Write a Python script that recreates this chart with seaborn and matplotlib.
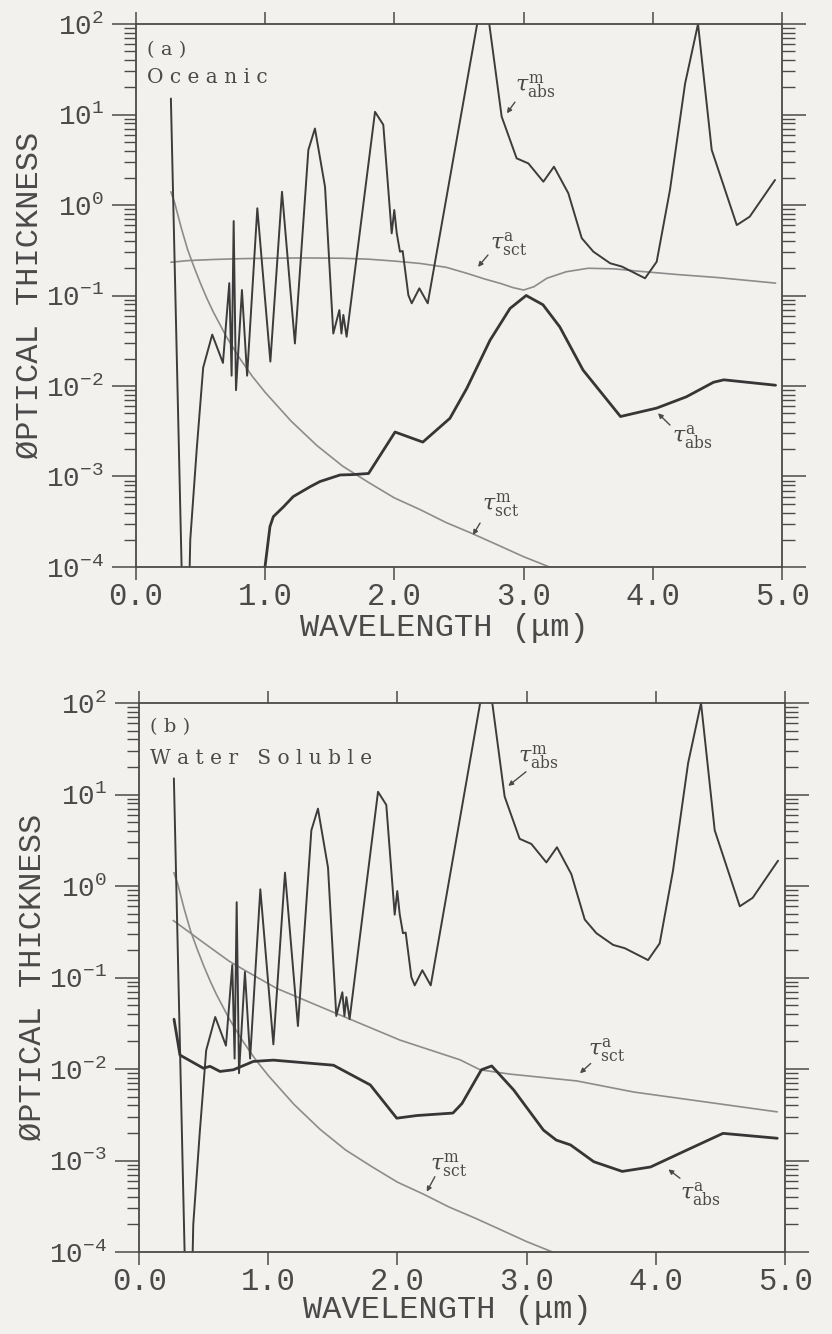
import numpy as np
import pandas as pd
import matplotlib
matplotlib.use("Agg")
import matplotlib.pyplot as plt
import seaborn as sns
from matplotlib.ticker import FixedLocator, NullFormatter

# ---------------- data ----------------
# molecular absorption (same in both panels)
lam_m_abs = [0.27, 0.385, 0.42, 0.47, 0.52, 0.59, 0.673, 0.722, 0.74, 0.756, 0.774,
             0.82, 0.86, 0.939, 1.04, 1.13, 1.23, 1.334, 1.385, 1.463, 1.527, 1.574,
             1.59, 1.605, 1.63, 1.85, 1.914, 1.979, 1.999, 2.018, 2.043, 2.064, 2.108,
             2.134, 2.193, 2.258, 2.694, 2.83, 2.946, 3.037, 3.153, 3.235, 3.346, 3.45,
             3.54, 3.67, 3.76, 3.94, 4.03, 4.133, 4.25, 4.35, 4.456, 4.65, 4.75, 4.946]
tau_m_abs = [15.0, 1e-6, 2e-4, 2e-3, 0.016, 0.037, 0.018, 0.137, 0.013, 0.665, 0.009,
             0.115, 0.013, 0.92, 0.0186, 1.40, 0.0295, 4.06, 7.0, 1.59, 0.038, 0.069,
             0.038, 0.061, 0.035, 10.7, 7.7, 0.486, 0.88, 0.49, 0.305, 0.31, 0.101,
             0.082, 0.12, 0.082, 270.0, 9.5, 3.28, 2.88, 1.81, 2.65, 1.35, 0.43,
             0.305, 0.227, 0.209, 0.155, 0.236, 1.47, 22.0, 100.0, 4.06, 0.60, 0.743, 1.89]

# molecular (Rayleigh) scattering (same in both panels)
lam_m_sct = [0.27, 0.30, 0.35, 0.40, 0.45, 0.50, 0.55, 0.60, 0.70, 0.80, 0.90, 1.0,
             1.2, 1.4, 1.6, 1.8, 2.0, 2.2, 2.4, 2.6, 2.8, 3.0, 3.2, 3.3]
tau_m_sct = [1.4, 1.05, 0.56, 0.32, 0.205, 0.135, 0.092, 0.065, 0.035, 0.0205, 0.0128,
             0.0085, 0.0041, 0.0022, 0.0013, 8.6e-4, 5.8e-4, 4.3e-4, 3.1e-4, 2.35e-4,
             1.75e-4, 1.3e-4, 1.0e-4, 8.5e-5]

# (a) Oceanic aerosol
lam_a_sct_oc = [0.27, 0.4, 0.6, 0.8, 1.0, 1.3, 1.6, 1.8, 2.0, 2.2, 2.4, 2.56, 2.7,
                2.82, 2.92, 3.0, 3.08, 3.18, 3.33, 3.5, 3.7, 3.9, 4.2, 4.5, 4.95]
tau_a_sct_oc = [0.233, 0.243, 0.25, 0.255, 0.258, 0.26, 0.258, 0.252, 0.24, 0.226,
                0.205, 0.176, 0.152, 0.136, 0.122, 0.115, 0.125, 0.155, 0.183, 0.2,
                0.197, 0.185, 0.17, 0.158, 0.137]
lam_a_abs_oc = [0.99, 1.037, 1.063, 1.14, 1.217, 1.347, 1.424, 1.58, 1.68, 1.80, 2.005,
                2.22, 2.43, 2.56, 2.74, 2.895, 3.02, 3.15, 3.28, 3.46, 3.75, 4.03, 4.26,
                4.47, 4.55, 4.95]
tau_a_abs_oc = [8e-5, 2.8e-4, 3.6e-4, 4.6e-4, 6.0e-4, 7.7e-4, 8.8e-4, 1.04e-3, 1.05e-3,
                1.08e-3, 3.1e-3, 2.4e-3, 4.4e-3, 9.4e-3, 0.032, 0.072, 0.10, 0.079,
                0.045, 0.015, 4.6e-3, 5.7e-3, 7.6e-3, 0.011, 0.0117, 0.0102]

# (b) Water soluble aerosol
lam_a_sct_ws = [0.265, 0.5, 0.7, 0.86, 1.066, 1.5, 2.02, 2.485, 2.64, 2.87, 3.39, 3.83, 4.94]
tau_a_sct_ws = [0.42, 0.24, 0.15, 0.111, 0.076, 0.042, 0.0207, 0.0126, 0.0098, 0.0088,
                0.0074, 0.0056, 0.0034]
lam_a_abs_ws = [0.271, 0.317, 0.498, 0.55, 0.627, 0.73, 0.885, 1.04, 1.505, 1.79, 1.995,
                2.15, 2.43, 2.5, 2.65, 2.73, 2.9, 3.13, 3.23, 3.34, 3.52, 3.74, 3.96,
                4.24, 4.52, 4.94]
tau_a_abs_ws = [0.035, 0.0142, 0.0102, 0.0107, 0.0094, 0.0098, 0.0121, 0.0125, 0.011,
                0.0067, 2.9e-3, 3.1e-3, 3.3e-3, 4.2e-3, 9.8e-3, 0.0108, 5.9e-3, 2.15e-3,
                1.67e-3, 1.48e-3, 9.7e-4, 7.6e-4, 8.5e-4, 1.3e-3, 1.98e-3, 1.75e-3]

xtick_vals = [0.0, 1.0, 2.0, 3.0, 4.0, 5.0]
xtick_labels = ["0.0", "1.0", "2.0", "3.0", "4.0", "5.0"]
ytick_exps = [-4, -3, -2, -1, 0, 1, 2]

# ---------------- style ----------------
sns.set_style("ticks")
plt.rcParams['font.family'] = ['Liberation Mono', 'DejaVu Sans Mono', 'DejaVu Sans']
BG = '#f2f1ee'
INK = '#4a4a4a'
LIGHT = '#8c8c8c'

fig = plt.figure(figsize=(8.32, 13.34), dpi=100, facecolor=BG)
ax_a = fig.add_axes([136/832, 1 - 567/1334, 646/832, 543/1334])
ax_b = fig.add_axes([139/832, 1 - 1252/1334, 646/832, 549/1334])


def draw_panel(ax, a_sct_x, a_sct_y, a_abs_x, a_abs_y):
    ax.set_facecolor(BG)
    sns.lineplot(x=lam_m_sct, y=tau_m_sct, ax=ax, color=LIGHT, linewidth=1.2,
                 sort=False, estimator=None)
    sns.lineplot(x=a_sct_x, y=a_sct_y, ax=ax, color=LIGHT, linewidth=1.2,
                 sort=False, estimator=None)
    sns.lineplot(x=lam_m_abs, y=tau_m_abs, ax=ax, color='#3c3c3c', linewidth=1.4,
                 sort=False, estimator=None)
    sns.lineplot(x=a_abs_x, y=a_abs_y, ax=ax, color='#363636', linewidth=2.0,
                 sort=False, estimator=None)
    ax.set_yscale('log')
    ax.set_xlim(0, 5)
    ax.set_ylim(1e-4, 1e2)
    ax.xaxis.set_major_locator(FixedLocator(xtick_vals))
    ax.set_xticklabels(xtick_labels)
    ax.yaxis.set_major_locator(FixedLocator([10.0 ** k for k in ytick_exps]))
    ax.set_yticklabels([r"$\mathregular{10^{%d}}$" % k for k in ytick_exps])
    minors = [m * 10.0 ** k for k in ytick_exps[:-1] for m in range(2, 10)]
    ax.yaxis.set_minor_locator(FixedLocator(minors))
    ax.yaxis.set_minor_formatter(NullFormatter())
    ax.tick_params(axis='x', which='major', direction='out', length=9, width=1.1,
                   top=True, bottom=True, labelsize=22, pad=2, color=INK, labelcolor=INK)
    ax.tick_params(axis='x', which='minor', bottom=False, top=False)
    ax.tick_params(axis='y', which='major', direction='out', length=17, width=1.1,
                   left=True, right=True, labelsize=20, pad=6, color=INK, labelcolor=INK)
    ax.tick_params(axis='y', which='minor', direction='out', length=9, width=1.0,
                   left=True, right=True, color=INK)
    for s in ax.spines.values():
        s.set_visible(True)
        s.set_color(INK)
        s.set_linewidth(1.3)
    ax.set_xlabel("WAVELENGTH (μm)", fontsize=23, color=INK)
    ax.set_ylabel("ØPTICAL THICKNESS", fontsize=23, color=INK)
    ax.yaxis.set_label_coords(-0.142, 0.5)


draw_panel(ax_a, lam_a_sct_oc, tau_a_sct_oc, lam_a_abs_oc, tau_a_abs_oc)
draw_panel(ax_b, lam_a_sct_ws, tau_a_sct_ws, lam_a_abs_ws, tau_a_abs_ws)
ax_a.xaxis.set_label_coords(0.478, -0.084)
ax_b.xaxis.set_label_coords(0.478, -0.078)

serif = ['DejaVu Serif']
ax_a.text(0.017, 0.952, "( a )", transform=ax_a.transAxes, family=serif,
          fontsize=14, va='center', ha='left', color=INK)
ax_a.text(0.017, 0.902, "O c e a n i c", transform=ax_a.transAxes, family=serif,
          fontsize=14.5, va='center', ha='left', color=INK)
ax_b.text(0.017, 0.957, "( b )", transform=ax_b.transAxes, family=serif,
          fontsize=14, va='center', ha='left', color=INK)
ax_b.text(0.017, 0.899, "W a t e r   S o l u b l e", transform=ax_b.transAxes,
          family=serif, fontsize=14.5, va='center', ha='left', color=INK)

lbl_m_abs = r"$\tau^{\mathrm{m}}_{\mathrm{abs}}$"
lbl_a_abs = r"$\tau^{\mathrm{a}}_{\mathrm{abs}}$"
lbl_m_sct = r"$\tau^{\mathrm{m}}_{\mathrm{sct}}$"
lbl_a_sct = r"$\tau^{\mathrm{a}}_{\mathrm{sct}}$"


def label(ax, txt, pos, tail, tip):
    ax.text(pos[0], pos[1], txt, fontsize=16, color=INK, ha='left', va='center',
            math_fontfamily='dejavuserif')
    ax.annotate("", xy=tip, xytext=tail,
                arrowprops=dict(arrowstyle='-|>', color=INK, lw=1.0,
                                mutation_scale=7, shrinkA=0, shrinkB=0))


# panel (a) labels
label(ax_a, lbl_m_abs, (2.93, 20.0), (2.933, 13.7), (2.87, 10.3))
label(ax_a, lbl_a_sct, (2.74, 0.37), (2.724, 0.28), (2.647, 0.207))
label(ax_a, lbl_a_abs, (4.146, 2.7e-3), (4.133, 3.7e-3), (4.04, 5.0e-3))
label(ax_a, lbl_m_sct, (2.676, 4.84e-4), (2.663, 3.06e-4), (2.608, 2.26e-4))
# panel (b) labels
label(ax_b, lbl_m_abs, (2.933, 25.0), (2.995, 17.7), (2.858, 12.4))
label(ax_b, lbl_a_sct, (3.475, 0.0161), (3.496, 0.0115), (3.413, 8.97e-3))
label(ax_b, lbl_m_sct, (2.252, 8.9e-4), (2.29, 6.65e-4), (2.227, 4.56e-4))
label(ax_b, lbl_a_abs, (4.187, 4.2e-4), (4.187, 6.4e-4), (4.097, 8.0e-4))

fig.savefig("out.png", dpi=100, facecolor=BG)
